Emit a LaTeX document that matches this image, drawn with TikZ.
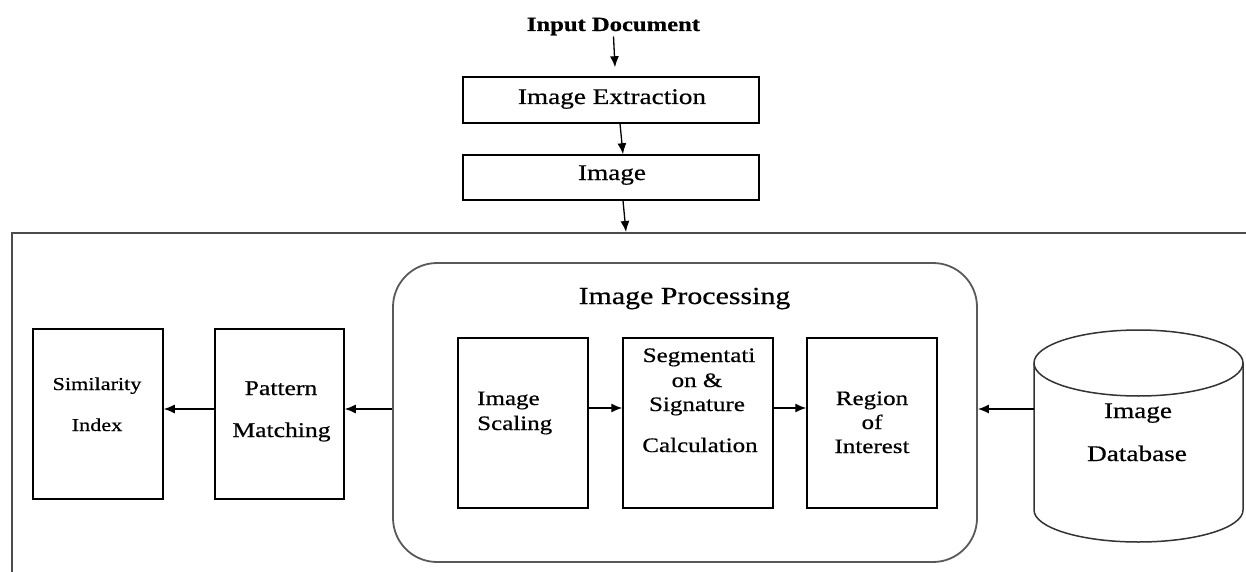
\documentclass[tikz,border=0pt]{standalone}
\usepackage{fontspec}
\setmainfont[FakeStretch=1.22,FakeBold=0.6]{Liberation Serif}
\usetikzlibrary{arrows.meta,calc}
\begin{document}
\begin{tikzpicture}[x=1pt,y=-1pt,
  box/.style={draw=black, line width=1.5pt, inner sep=0pt, rectangle},
  txt/.style={anchor=base, inner sep=0pt, font=\fontsize{20.5}{24}\selectfont},
  txtS/.style={txt, font=\fontsize{18.2}{22}\selectfont},
  txtM/.style={txt, font=\fontsize{21}{24}\selectfont},
  txtL/.style={txt, font=\fontsize{22.3}{26}\selectfont},
  arr/.style={line width=1.3pt, -{Latex[length=11pt,width=9pt]}},
  frameline/.style={draw=black!70, line width=2.5pt},
  procbox/.style={draw=black!65, line width=1.8pt, rounded corners=44pt, inner sep=0pt, rectangle}
]
\useasboundingbox (0,0) rectangle (1246,572);

% top chain
\node[txt, font=\bfseries\fontsize{20.2}{24}\selectfont] (in) at (613.5,31) {Input Document};
\node[box, minimum width=296pt, minimum height=46pt] (ext) at (611,100) {};
\node[txtL] (extT) at (612,104) {Image Extraction};
\node[box, minimum width=296pt, minimum height=45pt] (img) at (611,177.5) {};
\node[txtL] (imgT) at (612,180) {Image};

% frame
\draw[frameline] (12,572) -- (12,233) -- (1246,233);
\coordinate (ftop) at (626,232);

\draw[arr] ([yshift=-1pt]in.south) -- ([xshift=4pt,yshift=9pt]ext.north);
\draw[arr] ([xshift=9pt]ext.south) -- ([xshift=12pt]img.north);
\draw[arr] ([xshift=12pt]img.south) -- (ftop);

% processing
\node[procbox, minimum width=584pt, minimum height=299pt] (ip) at (685,412.5) {};
\node[txt, font=\fontsize{24.5}{28}\selectfont] (ipT) at (684.5,304) {Image Processing};

\node[box, minimum width=130pt, minimum height=170pt] (sc) at (523,423) {};
\node[txt, anchor=base west] (sc1) at (477,405) {Image};
\node[txt, anchor=base west] (sc2) at (477,430) {Scaling};

\node[box, minimum width=150pt, minimum height=170pt] (seg) at (698,423) {};
\node[txt] (seg1) at (699,362) {Segmentati};
\node[txt] (seg2) at (697,387) {on \&};
\node[txt] (seg3) at (697,411) {Signature};
\node[txt] (seg4) at (700,452) {Calculation};

\node[box, minimum width=130pt, minimum height=170pt] (roi) at (872,423) {};
\node[txt] (roi1) at (872,405) {Region};
\node[txt] (roi2) at (872,429) {of};
\node[txt] (roi3) at (872,453) {Interest};

\draw[arr] ([yshift=15pt]sc.east) -- ([yshift=15pt]seg.west);
\draw[arr] ([yshift=15pt]seg.east) -- ([yshift=15pt]roi.west);

% left boxes
\node[box, minimum width=130pt, minimum height=170pt] (sim) at (98,414) {};
\node[txtS] (sim1) at (97,390) {Similarity};
\node[txtS] (sim2) at (97,431) {Index};

\node[box, minimum width=129pt, minimum height=170pt] (pat) at (279.5,414) {};
\node[txtM] (pat1) at (281,395) {Pattern};
\node[txtM] (pat2) at (281.5,437) {Matching};

\draw[arr] ([yshift=3.5pt]ip.west) -- ([yshift=5pt]pat.east);
\draw[arr] ([yshift=5pt]pat.west) -- ([yshift=5pt]sim.east);

% database cylinder
\node[inner sep=0pt, minimum width=209pt, minimum height=212pt] (db) at (1138.5,436) {};
\draw[draw=black!80, line width=1.5pt, fill=white]
  (1034,363) -- (1034,510)
  .. controls (1034,527.7) and (1080.8,542) .. (1138.5,542)
  .. controls (1196.2,542) and (1243,527.7) .. (1243,510)
  -- (1243,363);
\draw[draw=black!80, line width=1.5pt] (1138.5,363) ellipse [x radius=104.5, y radius=33];
\node[txtL] (db1) at (1138,418) {Image};
\node[txtL] (db2) at (1137,461) {Database};

\draw[arr] ([yshift=27pt]db.west) -- ([yshift=3.5pt]ip.east);
\end{tikzpicture}
\end{document}
